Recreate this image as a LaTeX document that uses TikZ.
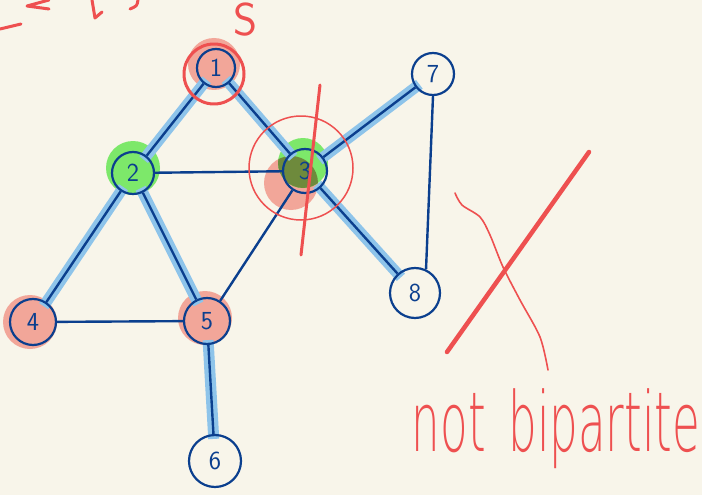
\documentclass[tikz,border=0pt]{standalone}
\usepackage{graphicx}
\usepackage{fontspec}
\newfontfamily\hand{DejaVu Sans ExtraLight}
\usetikzlibrary{backgrounds}

\definecolor{paper}{HTML}{F8F5EA}
\definecolor{ink}{HTML}{0B3F8E}
\definecolor{hilite}{HTML}{8EC4EA}
\definecolor{marker}{HTML}{EE5050}
\definecolor{salmon}{HTML}{F2A699}
\definecolor{lime}{HTML}{7DE86A}
\definecolor{olive}{HTML}{6E8A3C}

\begin{document}
\begin{tikzpicture}[x=1pt, y=-1pt,
        vertex/.style={circle, draw=ink, line width=2.2pt, minimum size=42pt, inner sep=0pt, text=ink, font=\sffamily\fontsize{26}{28}\selectfont},
        edge/.style={draw=ink, line width=2.4pt},
        tree/.style={draw=hilite, line width=11pt, shorten <=-5pt, shorten >=-5pt},
        pen/.style={draw=marker, line width=#1, line cap=round, line join=round}
    ]
    \useasboundingbox (0,0) rectangle (702,495);

    % vertices
    \node[vertex, minimum size=38pt] (v1) at (216,68) {1};
    \node[vertex] (v2) at (133,173) {2};
    \node[vertex, minimum size=44pt] (v3) at (305,171) {3};
    \node[vertex, minimum size=46pt] (v4) at (33,322) {4};
    \node[vertex, minimum size=46pt] (v5) at (207,321) {5};
    \node[vertex, minimum size=52pt] (v6) at (215,461) {6};
    \node[vertex] (v7) at (433,74) {7};
    \node[vertex, minimum size=50pt] (v8) at (415,293) {8};

    \begin{scope}[on background layer]
        \fill[paper] (0,0) rectangle (702,495);
        % colour marks behind the vertices
        \fill[salmon] ([shift={(-2,-4)}]v1.center) circle[radius=26pt];
        \fill[lime] ([shift={(0,-5)}]v2.center) circle[radius=27pt];
        \fill[salmon] ([shift={(-14,12)}]v3.center) circle[radius=27pt];
        \fill[lime] ([shift={(-2,-8)}]v3.center) circle[radius=25pt];
        \begin{scope}
            \clip ([shift={(-14,12)}]v3.center) circle[radius=27pt];
            \fill[olive] ([shift={(-2,-8)}]v3.center) circle[radius=25pt];
        \end{scope}
        \fill[salmon] ([shift={(-3,0)}]v4.center) circle[radius=27pt];
        \fill[salmon] ([shift={(-2,-3)}]v5.center) circle[radius=27pt];
        % spanning tree
        \draw[tree] (v1) -- (v2);
        \draw[tree] (v1) -- (v3);
        \draw[tree] (v2) -- (v4);
        \draw[tree] (v2) -- (v5);
        \draw[tree] (v3) -- (v7);
        \draw[tree] (v3) -- (v8);
        \draw[tree] (v5) -- (v6);
    \end{scope}

    % edges
    \draw[edge] (v1) -- (v2);
    \draw[edge] (v1) -- (v3);
    \draw[edge] (v2) -- (v3);
    \draw[edge] (v2) -- (v4);
    \draw[edge] (v2) -- (v5);
    \draw[edge] (v3) -- (v5);
    \draw[edge] (v3) -- (v7);
    \draw[edge] (v3) -- (v8);
    \draw[edge] (v4) -- (v5);
    \draw[edge] (v5) -- (v6);
    \draw[edge] (v7.south) -- (v8.65);

    % red annotations
    \draw[pen=3pt] ([shift={(-2,6)}]v1.center) circle[radius=30pt];
    \node[text=marker, font=\sffamily\fontsize{46}{46}\selectfont] (src) at (246,20) {S};
    \draw[pen=1.5pt] ([shift={(-4,-3)}]v3.center) circle[radius=52pt];
    \draw[pen=3pt] (320,85) -- (301,255);

    \draw[pen=4.5pt] (447,352) -- (589,152);
    \draw[pen=1.6pt] plot[smooth] coordinates {(455,193) (462,205) (480,217) (490,235) (503,267) (520,300) (540,337) (548,370)};

    \node[text=marker, inner sep=0pt, font=\hand] (verdict) at (556,429)
        {\resizebox*{288pt}{80pt}{not\hspace{0.5em}bipartite}};

    % scribbles cut off at the top
    \draw[pen=3pt] (0,29) -- (21,24);
    \draw[pen=3pt] (49,0) -- (27,6) -- (49,9);
    \draw[pen=3pt] (92,0) -- (95,18) -- (102,12);
    \draw[pen=3pt] (138,0) .. controls (137,6) .. (130,9);
\end{tikzpicture}
\end{document}
